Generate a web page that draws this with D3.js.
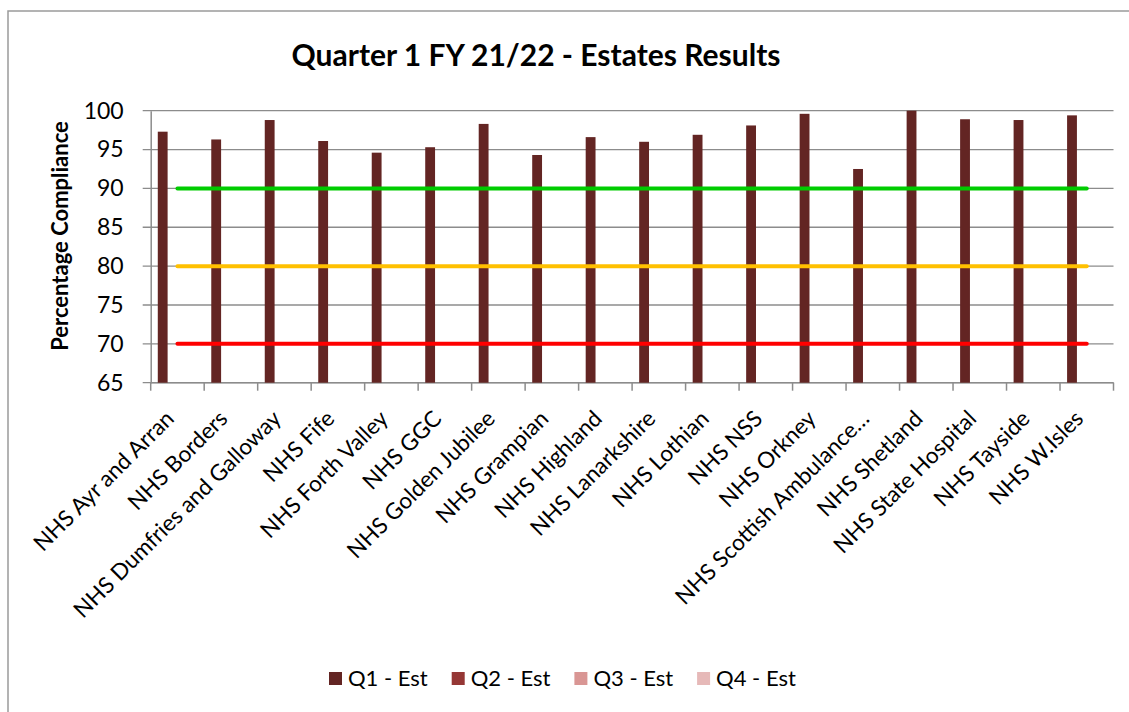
<!DOCTYPE html>
<html>
<head>
<meta charset="utf-8">
<script src="https://cdn.jsdelivr.net/npm/d3@7"></script>
<style>
  body { margin: 0; background: #fff; }
  svg { display: block; font-family: "Lato", "Open Sans", sans-serif; }
</style>
</head>
<body>
<div id="chart"></div>
<script>
"use strict";

// === DATA ===
const categories = [
  "NHS Ayr and Arran", "NHS Borders", "NHS Dumfries and Galloway", "NHS Fife",
  "NHS Forth Valley", "NHS GGC", "NHS Golden Jubilee", "NHS Grampian",
  "NHS Highland", "NHS Lanarkshire", "NHS Lothian", "NHS NSS", "NHS Orkney",
  "NHS Scottish Ambulance…", "NHS Shetland", "NHS State Hospital",
  "NHS Tayside", "NHS W.Isles"
];
const q1Values = [97.3, 96.3, 98.8, 96.1, 94.6, 95.3, 98.3, 94.3, 96.6,
                  96.0, 96.9, 98.1, 99.6, 92.5, 100, 98.9, 98.8, 99.4];
const seriesNames = ["Q1 - Est", "Q2 - Est", "Q3 - Est", "Q4 - Est"];
const seriesColors = ["#632523", "#953735", "#d99694", "#e6b9b8"];
const yTicks = [65, 70, 75, 80, 85, 90, 95, 100];
const targetValues = [90, 80, 70];
const targetColors = ["#00cc00", "#ffc000", "#ff0000"];

// === SVG SETUP ===
const svgWidth = 1129, svgHeight = 712;
const plot = { left: 150.7, right: 1113.5, top: 110.7, bottom: 382.7 };

const svg = d3.select("#chart")
  .append("svg")
  .attr("width", svgWidth)
  .attr("height", svgHeight);

// outer chart border (runs off the right/bottom edge)
svg.append("rect")
  .attr("x", 8).attr("y", 11)
  .attr("width", svgWidth + 10).attr("height", svgHeight + 10)
  .attr("fill", "none")
  .attr("stroke", "#9a9a9a")
  .attr("stroke-width", 1.5);

// === SCALES ===
const xScale = d3.scaleBand()
  .domain(categories)
  .range([plot.left, plot.right])
  .padding(0);

const seriesScale = d3.scaleBand()
  .domain(seriesNames)
  .range([0, xScale.bandwidth()])
  .paddingInner(0)
  .paddingOuter(0.72);

const yScale = d3.scaleLinear()
  .domain([65, 100])
  .range([plot.bottom, plot.top]);

// === GRIDLINES ===
svg.append("g")
  .selectAll("line")
  .data(yTicks)
  .enter()
  .append("line")
  .attr("x1", plot.left - 8)
  .attr("x2", plot.right)
  .attr("y1", d => yScale(d))
  .attr("y2", d => yScale(d))
  .attr("stroke", "#8c8c8c")
  .attr("stroke-width", 1.3);

// === AXES ===
const yAxis = d3.axisLeft(yScale)
  .tickValues(yTicks)
  .tickSize(0)
  .tickPadding(27);

const yG = svg.append("g")
  .attr("transform", `translate(${plot.left}, 0)`)
  .call(yAxis);
yG.select(".domain").attr("stroke", "#8c8c8c").attr("stroke-width", 1.5);
yG.selectAll("text")
  .attr("font-size", "23px")
  .attr("font-family", "Lato, sans-serif")
  .attr("fill", "#000");

// x axis line and boundary ticks
const boundaries = categories.map(c => xScale(c)).concat([plot.right]);
svg.append("line")
  .attr("x1", plot.left).attr("x2", plot.right)
  .attr("y1", plot.bottom).attr("y2", plot.bottom)
  .attr("stroke", "#8c8c8c").attr("stroke-width", 1.5);
svg.append("g")
  .selectAll("line")
  .data(boundaries)
  .enter()
  .append("line")
  .attr("x1", d => d).attr("x2", d => d)
  .attr("y1", plot.bottom).attr("y2", plot.bottom + 8)
  .attr("stroke", "#8c8c8c").attr("stroke-width", 1.5);

// category labels, rotated
svg.append("g")
  .selectAll("text")
  .data(categories)
  .enter()
  .append("text")
  .attr("transform", d => `translate(${xScale(d) + xScale.bandwidth() / 2 - 2}, 420) rotate(-45)`)
  .attr("text-anchor", "end")
  .attr("font-size", "22.5px")
  .attr("fill", "#000")
  .text(d => d);

// === BARS (Q1 only) ===
svg.append("g")
  .selectAll("rect")
  .data(q1Values)
  .enter()
  .append("rect")
  .attr("x", (d, i) => xScale(categories[i]) + seriesScale("Q1 - Est"))
  .attr("y", d => yScale(d))
  .attr("width", seriesScale.bandwidth())
  .attr("height", d => yScale(65) - yScale(d))
  .attr("fill", seriesColors[0]);

// === TARGET LINES ===
const firstCenter = xScale(categories[0]) + xScale.bandwidth() / 2;
const lastCenter = xScale(categories[categories.length - 1]) + xScale.bandwidth() / 2;
svg.append("g")
  .selectAll("line")
  .data(targetValues)
  .enter()
  .append("line")
  .attr("x1", firstCenter)
  .attr("x2", lastCenter)
  .attr("y1", d => yScale(d))
  .attr("y2", d => yScale(d))
  .attr("stroke", (d, i) => targetColors[i])
  .attr("stroke-width", 4)
  .attr("stroke-linecap", "round");

// === TITLES ===
svg.append("text")
  .attr("x", 536)
  .attr("y", 66)
  .attr("text-anchor", "middle")
  .attr("font-size", "30px")
  .attr("font-weight", "bold")
  .text("Quarter 1 FY 21/22 - Estates Results");

svg.append("text")
  .attr("transform", "rotate(-90)")
  .attr("x", -236)
  .attr("y", 68)
  .attr("text-anchor", "middle")
  .attr("font-size", "22px")
  .attr("font-weight", "bold")
  .text("Percentage Compliance");

// === LEGEND ===
const legend = svg.append("g")
  .selectAll("g")
  .data(seriesNames)
  .enter()
  .append("g")
  .attr("transform", (d, i) => `translate(${329 + i * 122.7}, 672)`);

legend.append("rect")
  .attr("width", 13)
  .attr("height", 13)
  .attr("fill", (d, i) => seriesColors[i]);

legend.append("text")
  .attr("x", 19)
  .attr("y", 14)
  .attr("font-size", "22px")
  .text(d => d);
</script>
</body>
</html>
